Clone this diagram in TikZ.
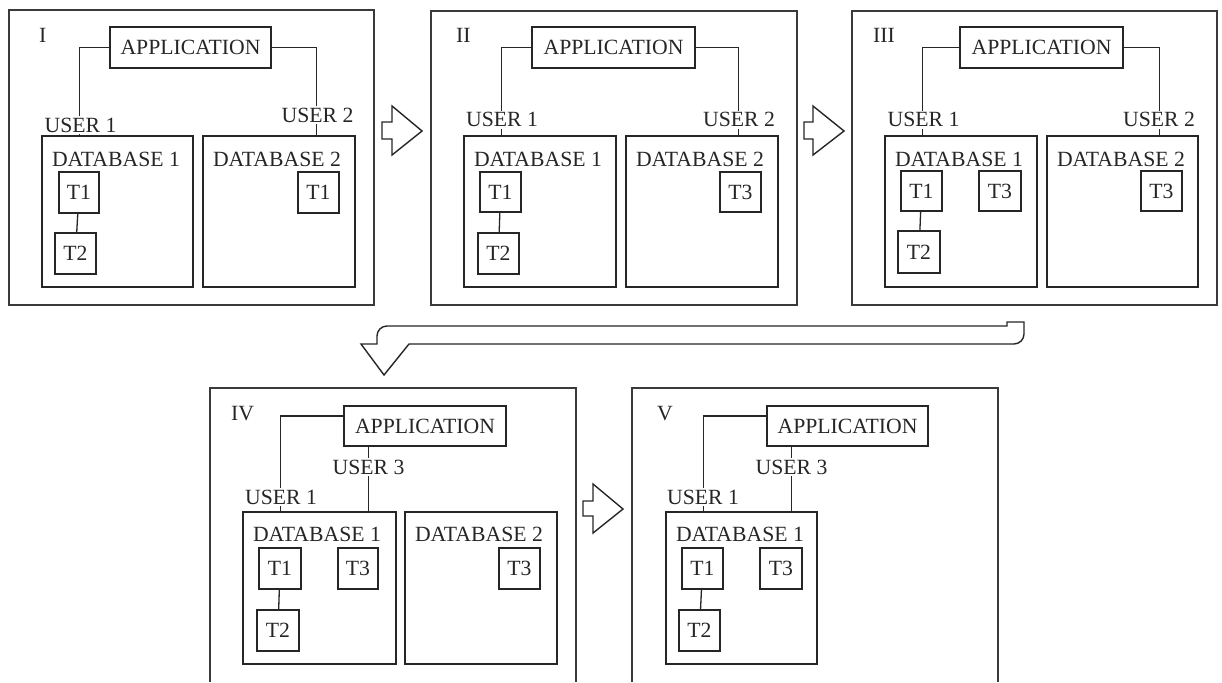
\documentclass[tikz,border=0pt]{standalone}
\usepackage{fontspec}
\setmainfont{Liberation Serif}
\usetikzlibrary{calc}
\definecolor{ink}{HTML}{262626}
\definecolor{framecol}{HTML}{3a3a3a}
\tikzset{
  panel/.style={draw=framecol, line width=1.5pt, inner sep=0pt},
  boxed/.style={draw=ink, line width=1.4pt, inner sep=0pt, text=ink},
  dblabel/.style={anchor=base west, inner sep=0pt, text=ink},
  userlabel/.style={anchor=base, fill=white, inner sep=1.5pt, text=ink},
  wire/.style={draw=ink, line width=1.3pt},
  tag/.style={anchor=base west, inner sep=0pt, text=ink},
  blockarrow/.style={draw=ink, line width=1.4pt, fill=white, line join=miter},
}
% box node from its two corners: [style]{name}{x1}{y1}{x2}{y2}{text}
\newcommand\bx[7][boxed]{\node[#1, minimum width={#5-#3}, minimum height={#6-#4}] (#2) at ({(#3+#5)/2},{(#4+#6)/2}) {#7};}
\begin{document}
\begin{tikzpicture}[x=1pt, y=-1pt, font=\fontsize{21.7}{25}\selectfont]
\useasboundingbox[fill=white] (0,0) rectangle (1222,682);

% ---------- stage I ----------
\bx[panel]{p1}{9}{10}{374}{305}{}
\node[tag] (p1tag) at (39,43) {I};
\bx{app1}{110}{27}{271}{68}{APPLICATION}
\bx{db11}{42}{136}{193}{287}{}
\bx{db12}{203}{136}{355}{287}{}
\node[dblabel] (db11lab) at ([shift={(10.5,31)}]db11.north west) {DATABASE 1};
\node[dblabel] (db12lab) at ([shift={(10.5,31)}]db12.north west) {DATABASE 2};
\bx{t11}{59}{172}{99}{213}{T1}
\bx{t12}{55}{233}{96}{274}{T2}
\bx{t1b}{298}{172}{339}{213}{T1}
\draw[wire] (t11) -- (t12);
\draw[wire] (app1.west) -| ([xshift=38pt]db11.north west);
\draw[wire] (app1.east) -| ([xshift=114pt]db12.north west);
\node[userlabel] (u11) at (80.5,132) {USER 1};
\node[userlabel] (u12) at (317.5,122) {USER 2};

% ---------- stage II ----------
\bx[panel]{p2}{431}{11}{797}{305}{}
\node[tag] (p2tag) at (456,43) {II};
\bx{app2}{532}{27}{695}{68}{APPLICATION}
\bx{db21}{464}{136}{616}{287}{}
\bx{db22}{626}{136}{778}{287}{}
\node[dblabel] (db21lab) at ([shift={(10.5,31)}]db21.north west) {DATABASE 1};
\node[dblabel] (db22lab) at ([shift={(10.5,31)}]db22.north west) {DATABASE 2};
\bx{t21}{480}{172}{521}{212}{T1}
\bx{t22}{478}{233}{519}{274}{T2}
\bx{t2b}{720}{172}{761}{212}{T3}
\draw[wire] (t21) -- (t22);
\draw[wire] (app2.west) -| ([xshift=38pt]db21.north west);
\draw[wire] (app2.east) -| ([xshift=113pt]db22.north west);
\node[userlabel] (u21) at (502,127) {USER 1};
\node[userlabel] (u22) at (739,127) {USER 2};

% ---------- stage III ----------
\bx[panel]{p3}{852}{11}{1217}{305}{}
\node[tag] (p3tag) at (873,43) {III};
\bx{app3}{960}{27}{1123}{68}{APPLICATION}
\bx{db31}{885}{136}{1037}{287}{}
\bx{db32}{1047}{136}{1198}{287}{}
\node[dblabel] (db31lab) at ([shift={(10.5,31)}]db31.north west) {DATABASE 1};
\node[dblabel] (db32lab) at ([shift={(10.5,31)}]db32.north west) {DATABASE 2};
\bx{t31}{901}{171}{942}{211}{T1}
\bx{t32}{898}{231}{940}{273}{T2}
\bx{t33}{979}{171}{1021}{211}{T3}
\bx{t3b}{1141}{171}{1182}{211}{T3}
\draw[wire] (t31) -- (t32);
\draw[wire] (app3.west) -| ([xshift=38pt]db31.north west);
\draw[wire] (app3.east) -| ([xshift=113pt]db32.north west);
\node[userlabel] (u31) at (923.5,127) {USER 1};
\node[userlabel] (u32) at (1159,127) {USER 2};

% ---------- stage IV ----------
\draw[panel] (210,682) coordinate (p4bl) -- (210,388) -- (576,388) -- (576,682) coordinate (p4br);
\node[tag] (p4tag) at (231,420) {IV};
\bx{app4}{344}{406}{506}{446}{APPLICATION}
\bx{db41}{243}{512}{396}{664}{}
\bx{db42}{405}{512}{557}{664}{}
\node[dblabel] (db41lab) at ([shift={(10.5,30)}]db41.north west) {DATABASE 1};
\node[dblabel] (db42lab) at ([shift={(10.5,30)}]db42.north west) {DATABASE 2};
\bx{t41}{259}{548}{301}{589}{T1}
\bx{t42}{257}{610}{299}{651}{T2}
\bx{t43}{338}{548}{378}{589}{T3}
\bx{t4b}{499}{548}{540}{589}{T3}
\draw[wire] (t41) -- (t42);
\draw[wire] ([yshift=10pt]app4.west) -| ([xshift=38pt]db41.north west);
\draw[wire] ([xshift=25pt]app4.south west) -- ([xshift=126pt]db41.north west);
\node[userlabel] (u41) at (281,504) {USER 1};
\node[userlabel] (u43) at (368.5,474) {USER 3};

% ---------- stage V ----------
\draw[panel] (632,682) coordinate (p5bl) -- (632,388) -- (998,388) -- (998,682) coordinate (p5br);
\node[tag] (p5tag) at (657,420) {V};
\bx{app5}{767}{406}{928}{446}{APPLICATION}
\bx{db51}{666}{512}{817}{664}{}
\node[dblabel] (db51lab) at ([shift={(10.5,30)}]db51.north west) {DATABASE 1};
\bx{t51}{682}{548}{723}{589}{T1}
\bx{t52}{679}{610}{720}{651}{T2}
\bx{t53}{760}{548}{802}{589}{T3}
\draw[wire] (t51) -- (t52);
\draw[wire] ([yshift=10pt]app5.west) -| ([xshift=38pt]db51.north west);
\draw[wire] ([xshift=25pt]app5.south west) -- ([xshift=126pt]db51.north west);
\node[userlabel] (u51) at (703,504) {USER 1};
\node[userlabel] (u53) at (791.5,474) {USER 3};

% ---------- transition arrows ----------
\draw[blockarrow] (382,122) -- (392,122) -- (392,106) -- (422,131) -- (392,155) -- (392,139) -- (382,139) -- cycle;
\draw[blockarrow] (804,122) -- (813,122) -- (813,106) -- (844,131) -- (813,155) -- (813,139) -- (804,139) -- cycle;
\draw[blockarrow] (583,501) -- (593,501) -- (593,484) -- (623,509) -- (593,533) -- (593,516) -- (583,516) -- cycle;
% bent arrow from the end of the first row down to the second row
\draw[blockarrow] (1007,326) -- (1007,322) -- (1024,322) -- (1024,334)
  .. controls (1024,339.5) and (1019.5,344) .. (1014,344) -- (409,344) -- (384,375) -- (361,344) -- (377,344) -- (377,336)
  .. controls (377,330.5) and (381.5,326) .. (387,326) -- cycle;
\end{tikzpicture}
\end{document}
